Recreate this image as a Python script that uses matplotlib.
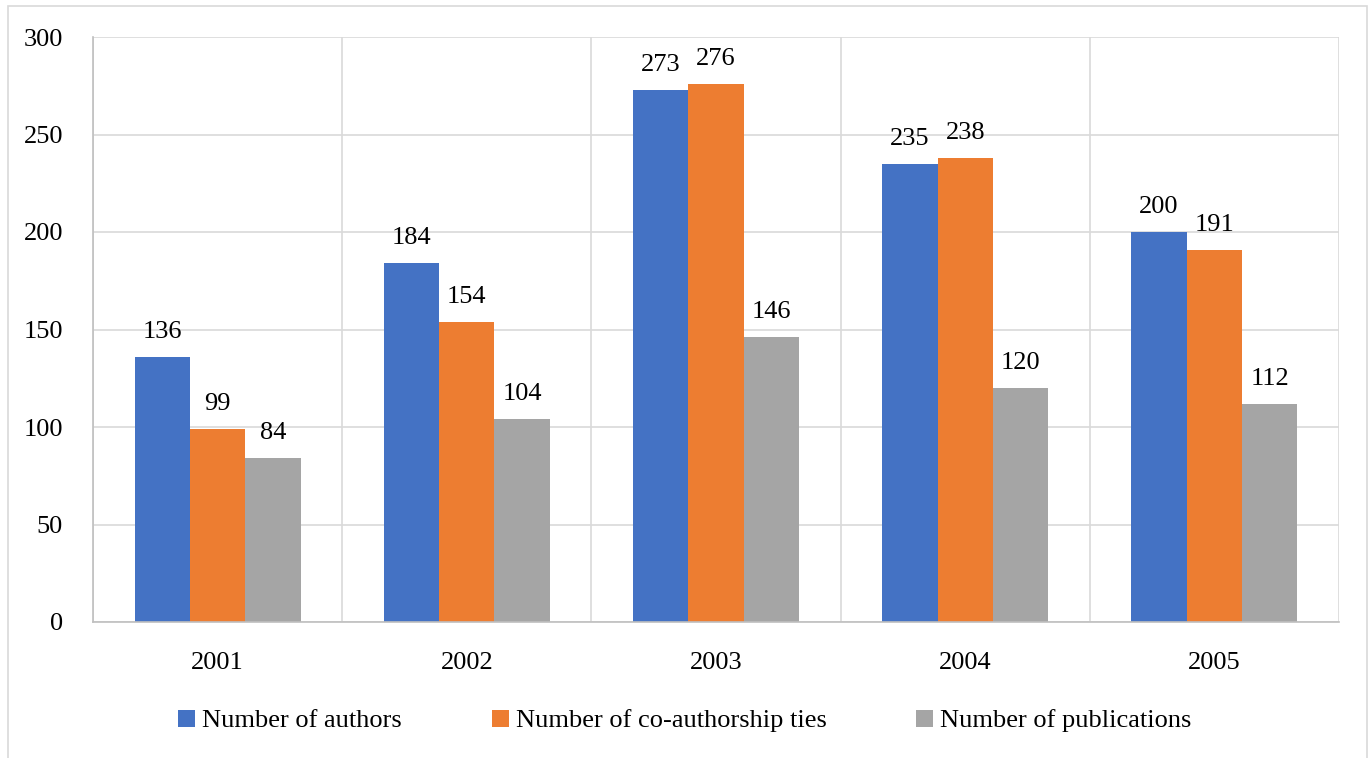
import matplotlib
matplotlib.use("Agg")
import matplotlib.pyplot as plt
from matplotlib.patches import Rectangle
import numpy as np

years = ["2001", "2002", "2003", "2004", "2005"]
authors = [136, 184, 273, 235, 200]
ties = [99, 154, 276, 238, 191]
publications = [84, 104, 146, 120, 112]
series_names = ["Number of authors", "Number of co-authorship ties", "Number of publications"]
colors = ["#4472C4", "#ED7D31", "#A5A5A5"]

plt.rcParams["font.family"] = ["Liberation Serif", "DejaVu Serif"]
FS = 19

fig = plt.figure(figsize=(13.70, 7.58), dpi=100)
fig.patch.set_facecolor("white")
ax = fig.add_axes([93 / 1370, 136 / 758, (1339 - 93) / 1370, (622 - 37) / 758])

# outer chart border
fig.add_artist(Rectangle((8 / 1370, -0.02), 1359 / 1370, (758 - 6) / 758 + 0.02,
                         transform=fig.transFigure, fill=False,
                         edgecolor="#d9d9d9", linewidth=1.2))

x = np.arange(len(years))
w = 1 / 4.5
data = [authors, ties, publications]
handles = []
for i, (vals, col, name) in enumerate(zip(data, colors, series_names)):
    bars = ax.bar(x + (i - 1) * w, vals, width=w, color=col, label=name, zorder=3)
    handles.append(bars)
    for b, v in zip(bars, vals):
        ax.annotate(str(v), (b.get_x() + b.get_width() / 2, v),
                    xytext=(0, 10), textcoords="offset points",
                    ha="center", va="bottom", fontsize=FS, color="#000000")

ax.set_xlim(-0.5, len(years) - 0.5)
ax.set_ylim(0, 300)
ax.set_yticks(np.arange(0, 301, 50))
ax.set_xticks(x)
ax.set_xticklabels(years)
ax.tick_params(axis="both", length=0, labelsize=FS, colors="#000000")
ax.tick_params(axis="y", pad=21.6)
ax.tick_params(axis="x", pad=21.5)

# horizontal and category-boundary gridlines
ax.yaxis.grid(True, color="#d9d9d9", linewidth=1.2, zorder=0)
for b in np.arange(-0.5, len(years), 1.0):
    ax.axvline(b, color="#d9d9d9", linewidth=1.2, zorder=0)
for s in ["top", "right"]:
    ax.spines[s].set_visible(False)
for s in ["left", "bottom"]:
    ax.spines[s].set_color("#bfbfbf")
    ax.spines[s].set_linewidth(1.2)
    ax.spines[s].set_zorder(4)

fig.legend(handles=handles, labels=series_names, loc="center",
           bbox_to_anchor=(0.5, (758 - 721) / 758), ncol=3, frameon=False,
           fontsize=FS, handlelength=0.64, handleheight=0.64,
           handletextpad=0.27, columnspacing=3.4)

fig.savefig("out.png", dpi=100, facecolor="white")
